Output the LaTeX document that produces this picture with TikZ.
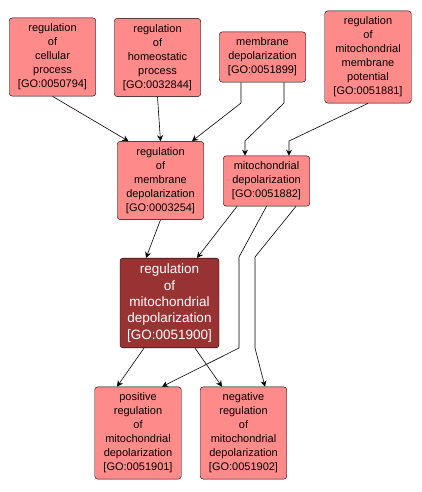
\documentclass[tikz,border=0pt]{standalone}
\usepackage{fontspec}
\setmainfont{Liberation Sans}
\usepackage{xcolor}
\usetikzlibrary{arrows.meta, positioning, calc}

\definecolor{termfill}{RGB}{255,138,138}
\definecolor{focusfill}{RGB}{153,51,51}

\begin{document}
\begin{tikzpicture}[
        x=1pt, y=-1pt,
        term/.style={rectangle, draw, rounded corners=3pt, fill=termfill, align=center,
            minimum width=86.5pt, inner xsep=2pt, inner ysep=6pt,
            font=\fontsize{11}{14}\selectfont},
        focus/.style={term, fill=focusfill, text=white, minimum width=99pt,
            font=\fontsize{13.5}{16.3}\selectfont},
        isa/.style={-{Stealth[length=6pt, width=6pt, inset=2pt]}, line width=0.6pt}
    ]
        \useasboundingbox (0,0) rectangle (421,492);

        % top row
        \node[term] (cellproc) at (52.5,57) {regulation\\of\\cellular\\process\\{}[GO:0050794]};
        \node[term] (homeo) at (157.5,57.5) {regulation\\of\\homeostatic\\process\\{}[GO:0032844]};
        \node[term] (memdep) at (262.5,57) {membrane\\depolarization\\{}[GO:0051899]};
        \node[term] (mitopot) at (368,57) {regulation\\of\\mitochondrial\\membrane\\potential\\{}[GO:0051881]};

        % middle rows
        \node[term] (regmem) at (160.5,180.5) {regulation\\of\\membrane\\depolarization\\{}[GO:0003254]};
        \node[term] (mitodep) at (266.5,181) {mitochondrial\\depolarization\\{}[GO:0051882]};
        \node[focus] (regmito) at (169.5,303) {regulation\\of\\mitochondrial\\depolarization\\{}[GO:0051900]};

        % bottom row
        \node[term] (posreg) at (138,433) {positive\\regulation\\of\\mitochondrial\\depolarization\\{}[GO:0051901]};
        \node[term] (negreg) at (243.5,433) {negative\\regulation\\of\\mitochondrial\\depolarization\\{}[GO:0051902]};

        % edges into regulation of membrane depolarization
        \draw[isa] (cellproc.south) -- ([xshift=-32pt]regmem.north);
        \draw[isa] (homeo.south) -- (regmem.north);
        \draw[isa] ([xshift=-21.5pt]memdep.south) -- (241,103) -- ([xshift=31.5pt]regmem.north);

        % edges into mitochondrial depolarization
        \draw[isa] ([xshift=21.5pt]memdep.south) -- (284,103) -- (245,141) -- ([xshift=-21.5pt]mitodep.north);
        \draw[isa] (mitopot.south) -- (289,141) -- ([xshift=22.5pt]mitodep.north);

        % edges into regulation of mitochondrial depolarization
        \draw[isa] (regmem.south) -- ([xshift=-23.5pt]regmito.north);
        \draw[isa] ([xshift=-29.5pt]mitodep.south) -- ([xshift=27.5pt]regmito.north);

        % edges into the bottom row
        \draw[isa] (mitodep.south) -- (239,257) -- (239,348) -- ([xshift=24pt]posreg.north);
        \draw[isa] ([xshift=29.5pt]mitodep.south) -- (255,257) -- (255,348) -- ([xshift=21.5pt]negreg.north);
        \draw[isa] ([xshift=-25.5pt]regmito.south) -- ([xshift=-21pt]posreg.north);
        \draw[isa] ([xshift=25.5pt]regmito.south) -- ([xshift=-21.5pt]negreg.north);

    \end{tikzpicture}
\end{document}
